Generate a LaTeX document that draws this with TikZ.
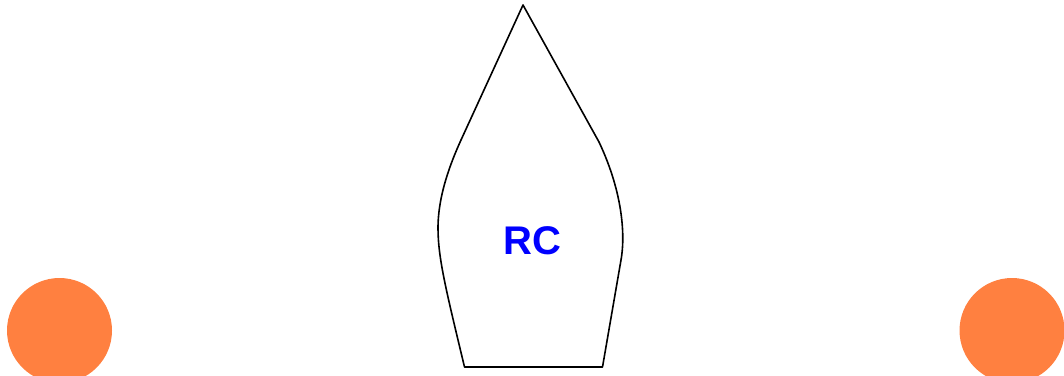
\documentclass[tikz,border=0pt]{standalone}
\usepackage{fontspec}
\setmainfont{Liberation Sans}
\definecolor{buoy}{RGB}{255,128,64}
\definecolor{rcblue}{RGB}{0,0,255}
\begin{document}
\begin{tikzpicture}[x=1pt,y=-1pt,
  hull/.style={draw=black,line width=1.6pt,line join=round},
  mark buoy/.style={circle,fill=buoy,draw=none,minimum size=105pt,inner sep=0pt},
  label text/.style={text=rcblue,font=\bfseries\fontsize{40}{40}\selectfont}]
\useasboundingbox (0,0) rectangle (1064,375);
\begin{scope}
\clip (0,0) rectangle (1064,375);
\node[mark buoy] (b1) at (59.5,330.5) {};
\node[mark buoy] (b2) at (1012,330.5) {};
\end{scope}
\draw[hull] (523,5) -- (461,140) .. controls (451,162) and (438,195) .. (438,228)
  .. controls (438,258) and (446,290) .. (464.5,367) -- (602.5,367) -- (621,260)
  .. controls (625,238) and (624,195) .. (599,142) -- cycle;
\node[label text] (rc) at (532.5,241) {RC};
\end{tikzpicture}
\end{document}
